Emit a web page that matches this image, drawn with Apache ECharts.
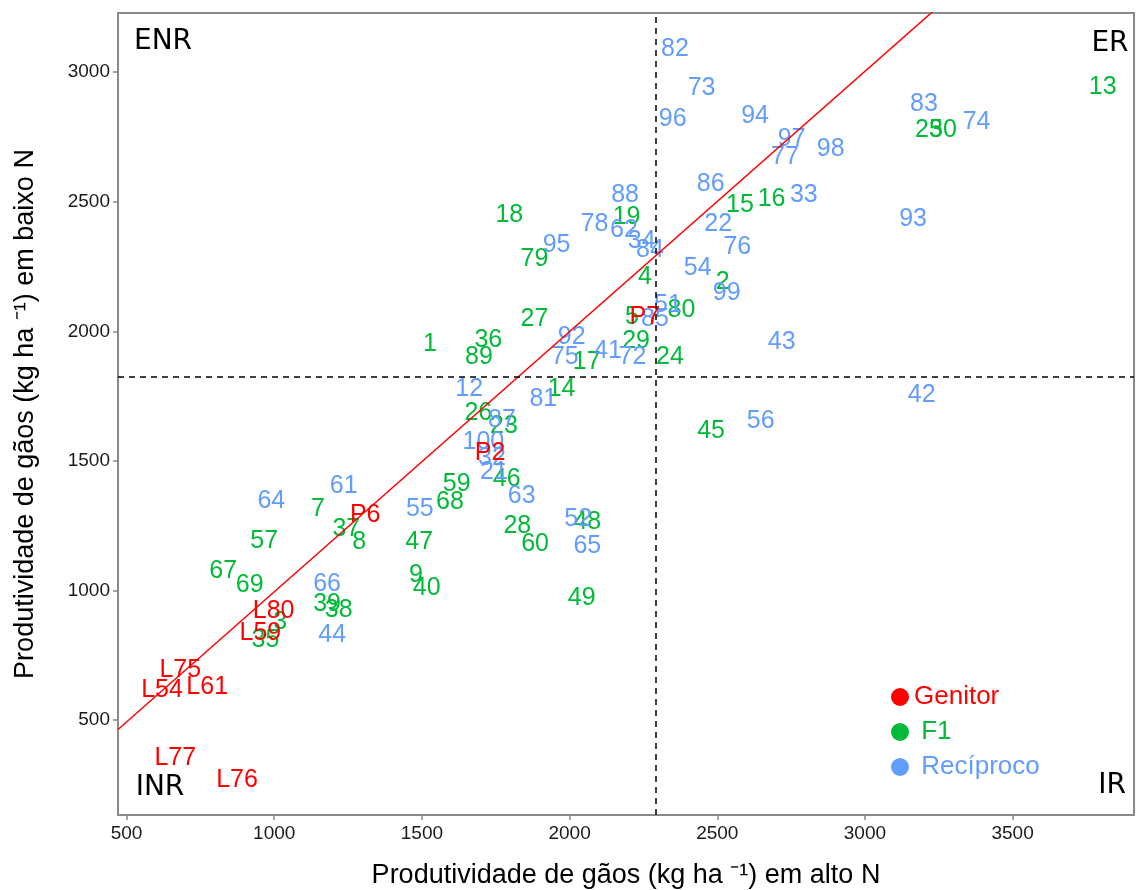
<!DOCTYPE html>
<html>
<head>
<meta charset="utf-8">
<script src="https://cdn.jsdelivr.net/npm/echarts@6/dist/echarts.min.js"></script>
<style>
  html, body { margin: 0; padding: 0; background: #fff; }
  #chart { width: 1136px; height: 890px; }
</style>
</head>
<body>
<div id="chart"></div>
<script>
// produtividade (kg/ha) em alto N (x) e baixo N (y)
const genitorNames = ['P7', 'P2', 'P6', 'L80', 'L59', 'L75', 'L54', 'L61', 'L77', 'L76'];
const genitorAltoN = [2255, 1731, 1308, 998, 953, 682, 620, 773, 665, 874];
const genitorBaixoN = [2056, 1529, 1291, 919, 834, 693, 616, 626, 352, 269];

const f1Names = ['1', '2', '3', '4', '5', '7', '8', '9', '13', '14', '15', '16', '17', '18', '19', '23', '24', '25', '26', '27', '28', '29', '30', '35', '36', '37', '38', '39', '40', '45', '46', '47', '48', '49', '57', '59', '60', '67', '68', '69', '79', '80', '89'];
const f1AltoN = [1527, 2518, 1020, 2255, 2211, 1148, 1288, 1480, 3805, 1973, 2577, 2684, 2058, 1796, 2193, 1778, 2340, 3217, 1691, 1881, 1823, 2225, 3264, 970, 1725, 1244, 1218, 1179, 1516, 2479, 1787, 1491, 2060, 2041, 966, 1618, 1883, 827, 1595, 917, 1881, 2379, 1693];
const f1BaixoN = [1951, 2191, 878, 2208, 2055, 1314, 1188, 1059, 2942, 1777, 2488, 2509, 1882, 2448, 2442, 1634, 1902, 2776, 1683, 2047, 1248, 1964, 2776, 809, 1966, 1236, 924, 948, 1008, 1616, 1429, 1188, 1265, 970, 1191, 1411, 1179, 1075, 1342, 1021, 2279, 2080, 1902];

const recNames = ['12', '21', '22', '32', '33', '34', '41', '42', '43', '44', '51', '52', '54', '55', '56', '61', '62', '63', '64', '65', '66', '72', '73', '74', '75', '76', '77', '78', '81', '82', '83', '84', '85', '86', '87', '88', '92', '93', '94', '95', '96', '97', '98', '99', '100'];
const recAltoN = [1660, 1744, 2503, 1737, 2793, 2244, 2130, 3192, 2718, 1196, 2333, 2029, 2434, 1493, 2647, 1235, 2184, 1838, 990, 2060, 1179, 2213, 2447, 3378, 1984, 2568, 2729, 2084, 1911, 2357, 3200, 2272, 2289, 2478, 1771, 2188, 2007, 3163, 2628, 1956, 2349, 2752, 2884, 2532, 1708];
const recBaixoN = [1777, 1457, 2415, 1511, 2524, 2349, 1924, 1754, 1960, 828, 2101, 1275, 2243, 1314, 1655, 1403, 2390, 1364, 1346, 1171, 1025, 1900, 2938, 2807, 1900, 2326, 2672, 2414, 1737, 3090, 2878, 2313, 2047, 2569, 1657, 2525, 1978, 2432, 2830, 2333, 2818, 2740, 2702, 2149, 1574];

// medias (linhas tracejadas) e reta ajustada
const altoNMean = 2292;
const baixoNMean = 1823;
const fitSlope = 1.004;
const fitIntercept = -9;

const xTicks = [500, 1000, 1500, 2000, 2500, 3000, 3500];
const yTicks = [500, 1000, 1500, 2000, 2500, 3000];
const xMin = 471, xMax = 3911;
const yMin = 134, yMax = 3228;

const RED = '#FF0000', GREEN = '#00BA38', BLUE = '#619CFF';

function pts(names, xs, ys) {
    return names.map((n, i) => ({ name: n, value: [xs[i], ys[i]] }));
}

function labelSeries(name, color, data) {
    return {
        name: name,
        type: 'scatter',
        symbolSize: 0,
        itemStyle: { color: color, opacity: 1 },
        label: {
            show: true,
            position: 'inside',
            formatter: p => p.name,
            color: color,
            opacity: 1,
            fontSize: 25,
            fontFamily: 'Liberation Sans, Arial, sans-serif'
        },
        silent: true,
        data: data
    };
}

const chart = echarts.init(document.getElementById('chart'));
const option = {
    backgroundColor: '#fff',
    animation: false,
    textStyle: { fontFamily: 'Liberation Sans, Arial, sans-serif' },
    grid: {
        left: 118, right: 2, top: 13, bottom: 75,
        outerBoundsMode: 'none',
        show: true, borderColor: '#8a8a8a', borderWidth: 2
    },
    xAxis: {
        type: 'value', min: xMin, max: xMax,
        name: 'Produtividade de gãos (kg ha ⁻¹) em alto N',
        nameLocation: 'middle', nameGap: 47,
        nameTextStyle: { fontSize: 27, color: '#000' },
        axisLine: { show: false },
        splitLine: { show: false },
        axisTick: { show: true, customValues: xTicks, length: 5, lineStyle: { color: '#888', width: 1.5 } },
        axisLabel: { customValues: xTicks, formatter: v => String(v), fontSize: 19, color: '#1a1a1a', margin: 9 }
    },
    yAxis: {
        type: 'value', min: yMin, max: yMax,
        name: 'Produtividade de gãos (kg ha ⁻¹) em baixo N',
        nameLocation: 'middle', nameGap: 79,
        nameTextStyle: { fontSize: 27, color: '#000' },
        axisLine: { show: false },
        splitLine: { show: false },
        axisTick: { show: true, customValues: yTicks, length: 5, lineStyle: { color: '#888', width: 1.5 } },
        axisLabel: { customValues: yTicks, formatter: v => String(v), fontSize: 19, color: '#1a1a1a', margin: 8 }
    },
    legend: {
        orient: 'vertical', left: 886, top: 679,
        icon: 'circle', itemWidth: 18, itemHeight: 18, itemGap: 9,
        textStyle: { fontSize: 26 },
        formatter: n => (n === 'Genitor' ? n : ' ' + n),
        data: [
            { name: 'Genitor', textStyle: { color: RED } },
            { name: 'F1', textStyle: { color: GREEN } },
            { name: 'Recíproco', textStyle: { color: BLUE } }
        ]
    },
    graphic: [
        { type: 'text', x: 163, y: 42, style: { text: 'ENR', font: '28px DejaVu Sans', fill: '#000', align: 'center', verticalAlign: 'middle' } },
        { type: 'text', x: 1110, y: 44, style: { text: 'ER', font: '28px DejaVu Sans', fill: '#000', align: 'center', verticalAlign: 'middle' } },
        { type: 'text', x: 160, y: 788, style: { text: 'INR', font: '28px DejaVu Sans', fill: '#000', align: 'center', verticalAlign: 'middle' } },
        { type: 'text', x: 1112, y: 786, style: { text: 'IR', font: '28px DejaVu Sans', fill: '#000', align: 'center', verticalAlign: 'middle' } }
    ],
    series: [
        labelSeries('F1', GREEN, pts(f1Names, f1AltoN, f1BaixoN)),
        labelSeries('Recíproco', BLUE, pts(recNames, recAltoN, recBaixoN)),
        labelSeries('Genitor', RED, pts(genitorNames, genitorAltoN, genitorBaixoN)),
        {
            name: 'ajuste',
            type: 'line',
            showSymbol: false,
            silent: true,
            lineStyle: { color: RED, width: 1.5 },
            data: [[xMin, fitSlope * xMin + fitIntercept], [xMax, fitSlope * xMax + fitIntercept]],
            markLine: {
                silent: true,
                symbol: 'none',
                label: { show: false },
                lineStyle: { color: '#000', type: [6, 5], width: 1.5 },
                data: [{ xAxis: altoNMean }, { yAxis: baixoNMean }]
            }
        }
    ]
};
chart.setOption(option);
</script>
</body>
</html>
